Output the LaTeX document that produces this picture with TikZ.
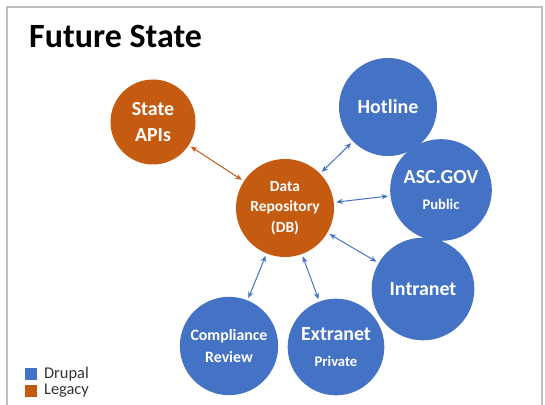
\documentclass[tikz,border=0pt]{standalone}
\usepackage{fontspec}
\setmainfont{Carlito}
\usetikzlibrary{positioning, arrows.meta}
\definecolor{drupalBlue}{RGB}{68, 114, 196}
\definecolor{legacyOrange}{RGB}{197, 90, 17}
\definecolor{frameGray}{RGB}{191, 191, 191}
\definecolor{legendText}{RGB}{50, 50, 50}
\newcommand{\subline}[1]{{\fontsize{12.5}{15}\selectfont #1}}

\begin{document}
\begin{tikzpicture}[
        x=0.03cm, y=-0.03cm,
        bubble/.style={
            circle, inner sep=0pt, text=white, align=center,
            font=\fontsize{17}{22}\selectfont\bfseries
        },
        drupal/.style={bubble, fill=drupalBlue},
        legacy/.style={bubble, fill=legacyOrange},
        link/.style={
            {Stealth[length=5.5pt,width=4.5pt]}-{Stealth[length=5.5pt,width=4.5pt]},
            line width=0.85pt, shorten <=2pt, shorten >=2pt
        },
        key/.style={rectangle, minimum size=0.36cm, inner sep=0pt},
        keytext/.style={font=\fontsize{14}{16}\selectfont, text=legendText, inner sep=0pt}
    ]

    \useasboundingbox (0,0) rectangle (545,405);

    % FRAME
    \draw[frameGray, line width=1.4pt] (7,405) -- (7,7) -- (542,7) -- (542,405);

    % TITLE
    \node[anchor=base west, inner sep=0pt, font=\fontsize{29}{34}\selectfont\bfseries] (title) at (29,48) {Future State};

    % HUB
    \node[legacy, minimum size=2.94cm, font=\fontsize{13.2}{17.5}\selectfont\bfseries] (db) at (285,208) {Data\\Repository\\(DB)};

    % SPOKES
    \node[legacy, minimum size=2.55cm] (api) at (153,122) {State\\APIs};
    \node[drupal, minimum size=2.94cm] (hot) at (388,107) {Hotline};
    \node[drupal, minimum size=3.05cm] (asc) at (441,190) {ASC.GOV\\\subline{Public}};
    \node[drupal, minimum size=3.08cm] (intra) at (423,289) {Intranet};
    \node[drupal, minimum size=2.9cm] (extra) at (336,347) {Extranet\\\subline{Private}};
    \node[drupal, minimum size=2.95cm, font=\fontsize{13.5}{18}\selectfont\bfseries] (comp) at (229,346) {Compliance\\Review};

    % CONNECTORS
    \draw[link, legacyOrange] (api) -- (db);
    \draw[link, drupalBlue] (hot) -- (db);
    \draw[link, drupalBlue] (asc) -- (db);
    \draw[link, drupalBlue] (intra) -- (db);
    \draw[link, drupalBlue] (extra) -- (db);
    \draw[link, drupalBlue] (comp) -- (db);

    % LEGEND
    \node[key, fill=drupalBlue] (k1) at (31,374) {};
    \node[key, fill=legacyOrange] (k2) at (31,391) {};
    \node[keytext, right=0.2cm of k1] (k1t) {Drupal};
    \node[keytext, right=0.2cm of k2] (k2t) {Legacy};

\end{tikzpicture}
\end{document}
